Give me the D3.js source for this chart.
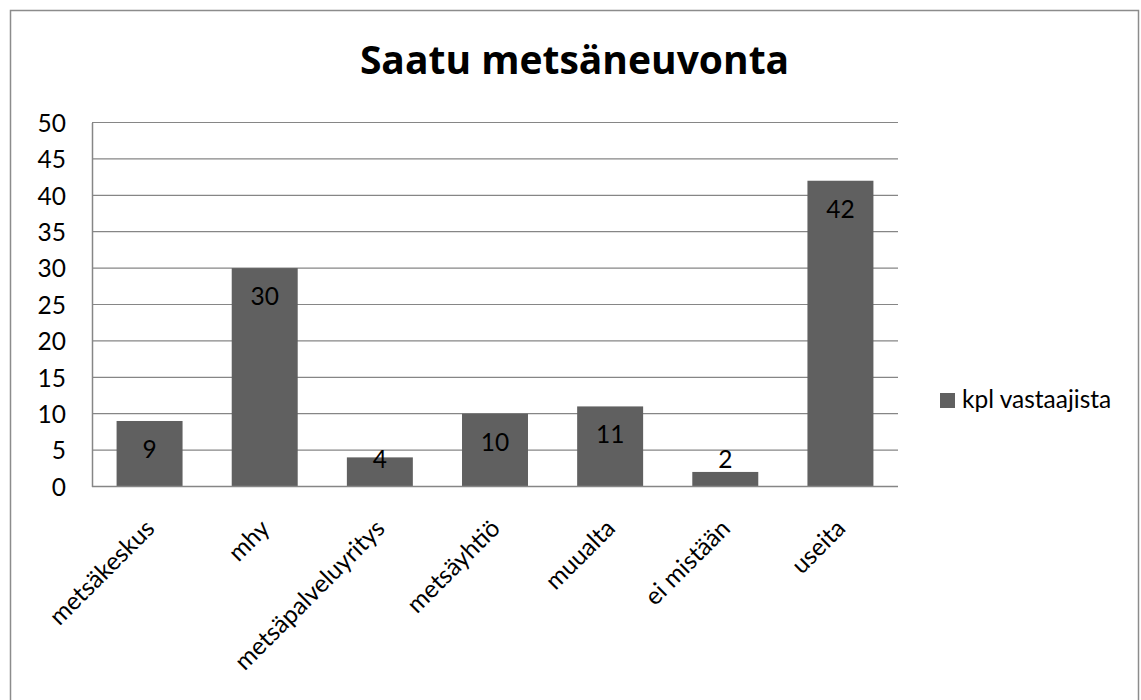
<!DOCTYPE html>
<html>
<head>
<meta charset="utf-8">
<script src="https://cdn.jsdelivr.net/npm/d3@7"></script>
<style>
  body { margin: 0; background: #fff; }
  text { font-family: Lato, "Open Sans", sans-serif; fill: #000; }
</style>
</head>
<body>
<div id="chart"></div>
<script>
var title = "Saatu metsäneuvonta";
var seriesName = "kpl vastaajista";
var categories = ["metsäkeskus", "mhy", "metsäpalveluyritys", "metsäyhtiö", "muualta", "ei mistään", "useita"];
var values = [9, 30, 4, 10, 11, 2, 42];
var yTicks = [0, 5, 10, 15, 20, 25, 30, 35, 40, 45, 50];

var totalWidth = 1141, totalHeight = 700;
var plot = {left: 92, right: 898, top: 122.5, bottom: 486.5};
var barColor = "#606060", gridColor = "#868686";
var fontSize = "24.5px";

var svg = d3.select("#chart").append("svg")
    .attr("width", totalWidth)
    .attr("height", totalHeight);

// outer chart border
svg.append("rect")
    .attr("x", 10.5).attr("y", 10.5)
    .attr("width", 1128).attr("height", 720)
    .attr("fill", "none")
    .attr("stroke", "#8c8c8c")
    .attr("stroke-width", 1.5);

svg.append("text")
    .attr("x", 574.5).attr("y", 73.5)
    .attr("text-anchor", "middle")
    .style("font-family", "'Open Sans', sans-serif")
    .style("font-size", "39px")
    .style("font-weight", "bold")
    .text(title);

var x_scale = d3.scaleBand()
    .domain(categories)
    .range([plot.left, plot.right])
    .paddingInner(0.427)
    .paddingOuter(0.2135);

var y_scale = d3.scaleLinear()
    .domain([0, 50])
    .range([plot.bottom, plot.top]);

// grid lines
svg.append("g")
  .selectAll("line")
  .data(yTicks.filter(function(d){ return d > 0; }))
  .enter()
  .append("line")
    .attr("x1", plot.left).attr("x2", plot.right)
    .attr("y1", function(d){ return y_scale(d); })
    .attr("y2", function(d){ return y_scale(d); })
    .attr("stroke", gridColor)
    .attr("stroke-width", 1.2);

// y axis
var yAxis = d3.axisLeft(y_scale).tickValues(yTicks).tickSize(0).tickPadding(26);
var yg = svg.append("g")
    .attr("transform", "translate(" + plot.left + ",0)")
    .call(yAxis);
yg.select(".domain").attr("stroke", gridColor).attr("stroke-width", 1.5);
yg.selectAll("text")
    .attr("dy", "0.36em")
    .style("font-size", fontSize)
    .style("font-family", "Lato, sans-serif")
    .attr("fill", "#000");

// bars
svg.append("g")
  .selectAll("rect")
  .data(values)
  .enter()
  .append("rect")
    .attr("x", function(d, i){ return x_scale(categories[i]); })
    .attr("y", function(d){ return y_scale(d); })
    .attr("width", x_scale.bandwidth())
    .attr("height", function(d){ return plot.bottom - y_scale(d); })
    .attr("fill", barColor);

// x axis line
svg.append("line")
    .attr("x1", plot.left).attr("x2", plot.right)
    .attr("y1", plot.bottom).attr("y2", plot.bottom)
    .attr("stroke", gridColor)
    .attr("stroke-width", 1.5);

// data labels (inside end, pushed up when bar is too short)
svg.append("g")
  .selectAll("text")
  .data(values)
  .enter()
  .append("text")
    .attr("x", function(d, i){ return x_scale(categories[i]) + x_scale.bandwidth() / 2; })
    .attr("y", function(d){ return Math.min(y_scale(d) + 37, plot.bottom - 18.5); })
    .attr("text-anchor", "middle")
    .style("font-size", fontSize)
    .text(function(d){ return d; });

// category labels
svg.append("g")
  .selectAll("text")
  .data(categories)
  .enter()
  .append("text")
    .attr("transform", function(d){
        return "translate(" + (x_scale(d) + x_scale.bandwidth() / 2 + 6.5) + "," + 530 + ") rotate(-45)";
    })
    .attr("text-anchor", "end")
    .style("font-size", fontSize)
    .text(function(d){ return d; });

// legend
var legend = svg.append("g").attr("transform", "translate(940,393)");
legend.append("rect")
    .attr("width", 15).attr("height", 15)
    .attr("fill", barColor);
legend.append("text")
    .attr("x", 22).attr("y", 15)
    .style("font-size", fontSize)
    .text(seriesName);
</script>
</body>
</html>
